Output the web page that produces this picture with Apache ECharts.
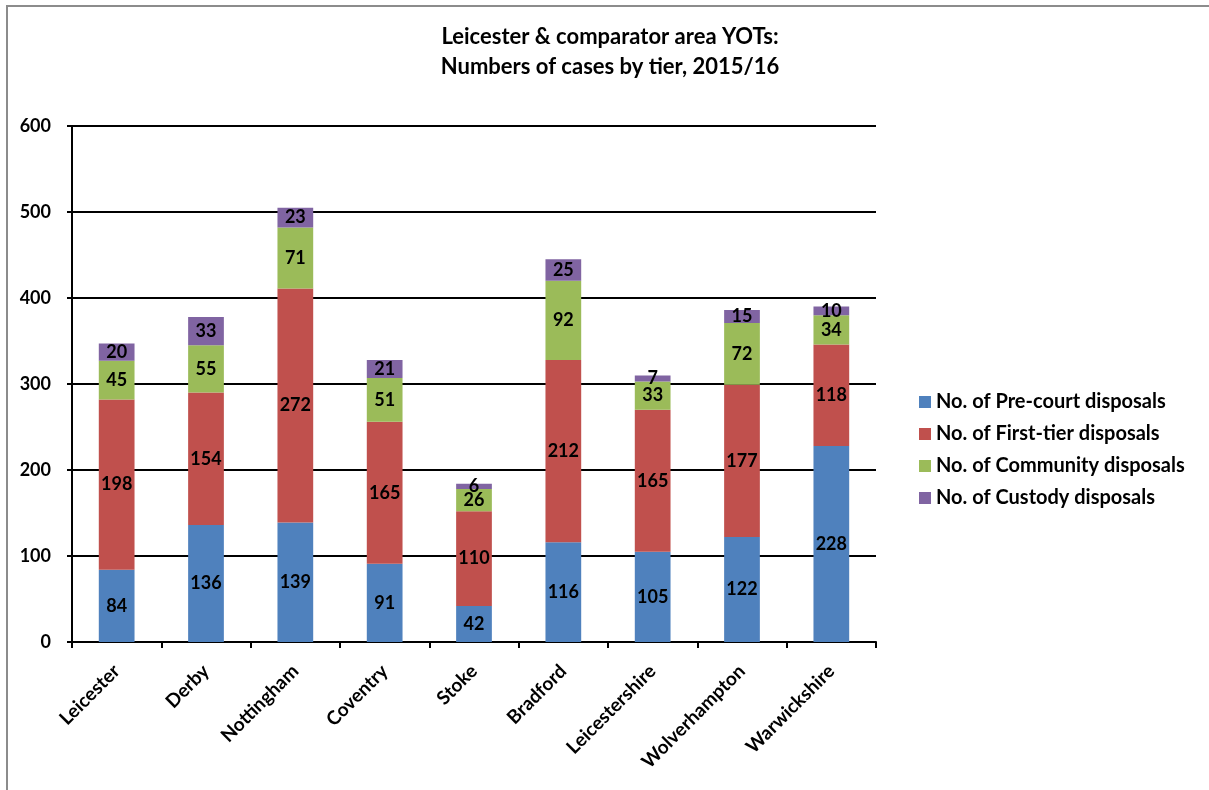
<!DOCTYPE html>
<html>
<head>
<meta charset="utf-8">
<script src="https://cdn.jsdelivr.net/npm/echarts@6/dist/echarts.min.js"></script>
<style>
  html, body { margin: 0; padding: 0; background: #fff; }
  #chart { width: 1209px; height: 790px; }
</style>
</head>
<body>
<div id="chart"></div>
<script>
// Youth offending team areas and their case counts per disposal tier, 2015/16
const areas = ['Leicester', 'Derby', 'Nottingham', 'Coventry', 'Stoke', 'Bradford', 'Leicestershire', 'Wolverhampton', 'Warwickshire'];
const preCourt   = [84, 136, 139, 91, 42, 116, 105, 122, 228];
const firstTier  = [198, 154, 272, 165, 110, 212, 165, 177, 118];
const community  = [45, 55, 71, 51, 26, 92, 33, 72, 34];
const custody    = [20, 33, 23, 21, 6, 25, 7, 15, 10];
const yTicks = { min: 0, max: 600, step: 100 };

const seriesDefs = [
  { name: 'No. of Pre-court disposals', data: preCourt, color: '#4F81BD' },
  { name: 'No. of First-tier disposals', data: firstTier, color: '#C0504D' },
  { name: 'No. of Community disposals', data: community, color: '#9BBB59' },
  { name: 'No. of Custody disposals', data: custody, color: '#8064A2' }
];

const FONT = 'Lato, "Open Sans", sans-serif';
const chart = echarts.init(document.getElementById('chart'), null, { renderer: 'canvas' });

chart.setOption({
  backgroundColor: '#ffffff',
  animation: false,
  graphic: [{
    type: 'rect',
    shape: { x: 7, y: 6, width: 1240, height: 820 },
    style: { fill: 'none', stroke: '#8c8c8c', lineWidth: 2 },
    silent: true,
    z: -10
  }],
  title: {
    text: 'Leicester & comparator area YOTs:\nNumbers of cases by tier, 2015/16',
    left: 605,
    textAlign: 'center',
    top: 17,
    textStyle: { fontFamily: FONT, fontWeight: 'bold', fontSize: 22, lineHeight: 30, color: '#000' }
  },
  legend: {
    orient: 'vertical',
    left: 914,
    top: 387,
    itemWidth: 12,
    itemHeight: 12,
    itemGap: 12,
    icon: 'rect',
    textStyle: { fontFamily: FONT, fontWeight: 'bold', fontSize: 20, lineHeight: 20, color: '#000' },
    data: seriesDefs.map(s => s.name)
  },
  grid: { left: 72, right: 333, top: 126, bottom: 148, containLabel: false },
  xAxis: {
    type: 'category',
    data: areas,
    axisLine: { show: true, lineStyle: { color: '#000', width: 2 } },
    axisTick: { show: true, alignWithLabel: false, length: 6, lineStyle: { color: '#000', width: 2 } },
    axisLabel: {
      rotate: 45,
      interval: 0,
      margin: 26,
      fontFamily: FONT, fontWeight: 'bold', fontSize: 19, color: '#000'
    }
  },
  yAxis: {
    type: 'value',
    min: yTicks.min,
    max: yTicks.max,
    interval: yTicks.step,
    axisLine: { show: true, lineStyle: { color: '#000', width: 2 } },
    axisTick: { show: true, length: 5, lineStyle: { color: '#000', width: 2 } },
    splitLine: { show: true, lineStyle: { color: '#000', width: 2 } },
    axisLabel: { margin: 21, fontFamily: FONT, fontWeight: 'bold', fontSize: 18, color: '#000' }
  },
  series: seriesDefs.map(s => ({
    name: s.name,
    type: 'bar',
    stack: 'total',
    barWidth: '40%',
    data: s.data,
    itemStyle: { color: s.color },
    label: {
      show: true,
      position: 'inside',
      fontFamily: FONT, fontWeight: 'bold', fontSize: 18, color: '#000'
    }
  }))
});
</script>
</body>
</html>
